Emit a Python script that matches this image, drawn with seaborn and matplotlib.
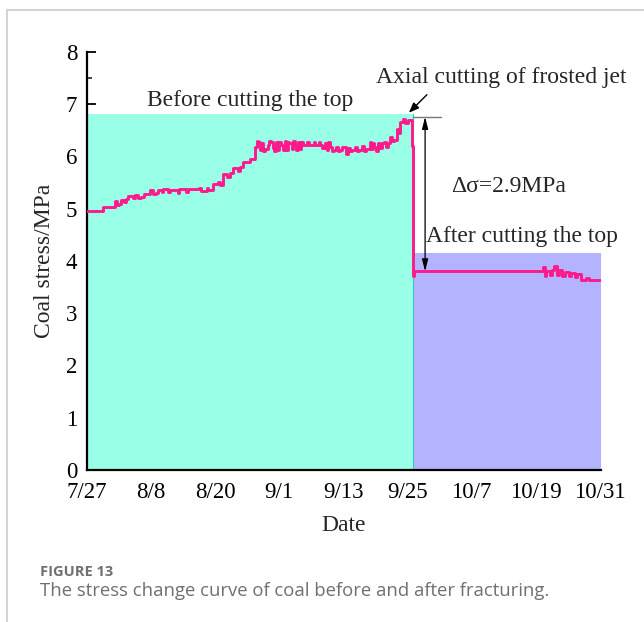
import numpy as np
import pandas as pd
import matplotlib
matplotlib.use("Agg")
import matplotlib.pyplot as plt
from matplotlib.lines import Line2D
from matplotlib.ticker import MultipleLocator
import seaborn as sns

# ------------------------------------------------------------
# Datos (día 0 = 7/27)
# ------------------------------------------------------------
dias_antes = [0, 3.0, 5.2, 5.6, 6.0, 6.4, 7.0, 7.3, 7.7, 8.6, 9.0, 9.6, 10.2, 10.6,
              11.8, 12.4, 13.0, 13.3, 14.0, 14.3, 15.2, 15.5, 17.0, 17.3, 18.6,
              18.9, 21.0, 21.4, 22.4, 22.7, 23.6, 24.6, 25.0, 25.5, 26.3, 26.7,
              27.4, 28.2, 28.6, 29.2, 30.5, 31.5,
              31.8, 32.0, 32.4, 32.8, 33.0, 33.3, 33.8, 34.1, 34.5, 34.8, 35.1,
              35.4, 35.7, 36.0, 36.3, 36.7, 37.0, 37.3, 37.6, 37.9, 38.3, 38.6,
              38.9, 39.2, 39.5, 39.8, 40.1, 40.4, 41.2, 41.5, 42.5, 42.7, 43.4,
              43.6, 44.0, 44.6, 44.9, 45.2, 45.5, 45.9, 46.2, 46.6, 47.0, 47.3,
              47.8, 48.5, 48.8, 49.2, 49.6, 50.2, 50.6, 51.0, 51.5, 51.9, 52.3,
              52.9, 53.2, 53.5, 53.8, 54.2, 54.5, 54.8, 55.2, 55.6, 55.9, 56.3,
              56.7, 57.1, 57.4, 58.0, 58.3, 58.6, 59.2, 59.6, 60.1, 60.8]
stress_antes = [4.95, 5.03, 5.15, 5.08, 5.10, 5.17, 5.12, 5.18, 5.25, 5.20, 5.27, 5.21, 5.22, 5.28,
                5.36, 5.29, 5.30, 5.36, 5.33, 5.37, 5.32, 5.36, 5.31, 5.37, 5.33,
                5.38, 5.40, 5.34, 5.40, 5.35, 5.47, 5.52, 5.45, 5.66, 5.60, 5.68,
                5.78, 5.72, 5.80, 5.90, 5.96, 6.18,
                6.30, 6.28, 6.12, 6.26, 6.10, 6.14, 6.22, 6.30, 6.28, 6.16, 6.10,
                6.27, 6.13, 6.28, 6.22, 6.12, 6.29, 6.12, 6.28, 6.25, 6.15, 6.29,
                6.22, 6.12, 6.28, 6.14, 6.27, 6.22, 6.28, 6.22, 6.27, 6.22, 6.27,
                6.22, 6.16, 6.26, 6.12, 6.28, 6.18, 6.10, 6.12, 6.18, 6.10, 6.13,
                6.18, 6.04, 6.17, 6.10, 6.12, 6.18, 6.10, 6.13, 6.20, 6.11, 6.15,
                6.27, 6.14, 6.26, 6.18, 6.10, 6.25, 6.16, 6.26, 6.28, 6.18, 6.26,
                6.38, 6.30, 6.32, 6.52, 6.45, 6.66, 6.72, 6.64, 6.70, 6.20]

dias_despues = [61.0, 61.2, 85.4, 85.7, 86.0, 86.6, 87.0, 87.5, 88.0, 88.4, 89.0,
                89.4, 90.3, 90.7, 91.3, 91.7, 92.4, 93.5, 94.0, 96.2]
stress_despues = [3.72, 3.80, 3.88, 3.72, 3.80, 3.73, 3.82, 3.90, 3.74, 3.82, 3.72,
                  3.78, 3.72, 3.77, 3.70, 3.76, 3.64, 3.68, 3.63, 3.63]

ticks_dias = [0, 12, 24, 36, 48, 60, 72, 84, 96]
ticks_fechas = ["7/27", "8/8", "8/20", "9/1", "9/13", "9/25", "10/7", "10/19", "10/31"]

# Zonas sombreadas: antes y después del corte
zona_antes_x = [0, 61.0]
zona_antes_alto = 6.82
zona_despues_x = [61.0, 96.2]
zona_despues_alto = 4.15

df = pd.DataFrame({
    "Dia": dias_antes + dias_despues,
    "Stress": stress_antes + stress_despues,
})

# ------------------------------------------------------------
# Gráfico
# ------------------------------------------------------------
sns.set_theme(style="ticks")
plt.rcParams["font.family"] = ["Liberation Serif", "DejaVu Serif"]

fig = plt.figure(figsize=(6.44, 6.22), dpi=100)
ax = fig.add_axes([0.135, 0.2444, 0.798, 0.672])

ax.fill_between(zona_antes_x, 0, zona_antes_alto, color="#99ffe6", lw=0, zorder=1)
ax.fill_between(zona_despues_x, 0, zona_despues_alto, color="#b3b3ff", lw=0, zorder=1)
ax.plot([zona_antes_x[1]] * 2, [0, zona_antes_alto], color="#33ccbb", lw=0.8, zorder=1.5)

sns.lineplot(data=df, x="Dia", y="Stress", ax=ax, color="#ff1a8c", lw=2.1,
             drawstyle="steps-post", estimator=None, sort=False, zorder=3)

ax.set_xlim(0, 96.2)
ax.set_ylim(0, 8)
ax.set_xticks(ticks_dias)
ax.set_xticklabels(ticks_fechas)
ax.xaxis.set_minor_locator(MultipleLocator(6))
ax.yaxis.set_minor_locator(MultipleLocator(0.5))
ax.tick_params(axis="both", which="major", direction="in", length=6.5, width=1.3,
               labelsize=16.5, colors="black", pad=7)
ax.tick_params(axis="x", which="major", pad=9)
ax.tick_params(axis="both", which="minor", direction="in", length=3.5, width=1.2)

for lado in ["top", "right"]:
    ax.spines[lado].set_visible(False)
for lado in ["left", "bottom"]:
    ax.spines[lado].set_linewidth(1.6)
    ax.spines[lado].set_color("black")

ax.set_xlabel("Date", fontsize=17, labelpad=8)
ax.set_ylabel("Coal stress/MPa", fontsize=17, labelpad=8)

# Textos y flechas
ax.text(30.5, 7.08, "Before cutting the top", fontsize=17, ha="center", va="center")
ax.text(77.5, 7.52, "Axial cutting of frosted jet", fontsize=17, ha="center", va="center")
ax.annotate("", xy=(59.9, 6.80), xytext=(64.0, 7.22),
            arrowprops=dict(arrowstyle="-|>,head_length=0.5,head_width=0.2",
                            color="black", lw=1))
ax.plot([61.0, 66.2], [6.76, 6.76], color="#777777", lw=1, zorder=2)
ax.annotate("", xy=(63.3, 3.80), xytext=(63.3, 6.76),
            arrowprops=dict(arrowstyle="<|-|>,head_length=0.6,head_width=0.15",
                            color="black", lw=0.9, shrinkA=0, shrinkB=0))
ax.text(79.0, 5.42, "Δσ=2.9MPa", fontsize=17, ha="center", va="center")
ax.text(81.5, 4.47, "After cutting the top", fontsize=17, ha="center", va="center")

# Marco y pie de figura
fig.add_artist(Line2D([7 / 644, 1], [1 - 10 / 622] * 2, color="#cccccc", lw=1.2))
fig.add_artist(Line2D([7 / 644] * 2, [0, 1 - 10 / 622], color="#cccccc", lw=1.2))
fig.text(40 / 644, 1 - 572 / 622, "FIGURE 13", fontsize=10.5, fontweight="bold",
         color="#707070", family="Open Sans", va="center", ha="left")
fig.text(40 / 644, 1 - 591 / 622, "The stress change curve of coal before and after fracturing.",
         fontsize=13.3, color="#707070", family="Open Sans", va="center", ha="left")

fig.savefig("out.png", dpi=100)
plt.close(fig)
